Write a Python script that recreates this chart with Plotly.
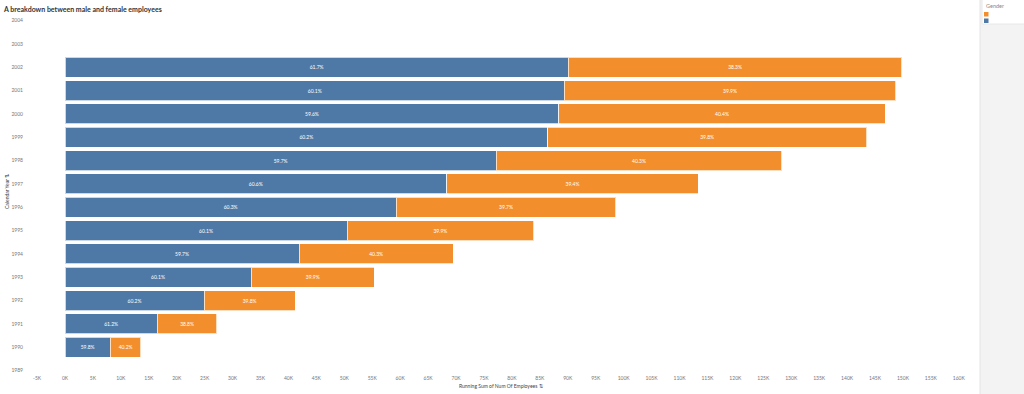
import plotly.graph_objects as go

# ---- data ----
years = [1990, 1991, 1992, 1993, 1994, 1995, 1996, 1997, 1998, 1999, 2000, 2001, 2002]
male_running = [8100, 16500, 24900, 33300, 41900, 50500, 59300, 68300, 77200, 86400, 88400, 89400, 90100]
female_running = [5500, 10700, 16300, 22100, 27600, 33400, 39300, 45100, 51100, 57100, 58400, 59300, 59700]
male_pct = ["59.8%", "61.2%", "60.2%", "60.1%", "59.7%", "60.1%", "60.3%", "60.6%", "59.7%", "60.2%", "59.6%", "60.1%", "61.7%"]
female_pct = ["40.2%", "38.8%", "39.8%", "39.9%", "40.3%", "39.9%", "39.7%", "39.4%", "40.3%", "39.8%", "40.4%", "39.9%", "38.3%"]
year_ticks = list(range(1989, 2005))
x_tickvals = list(range(-5000, 160001, 5000))
x_ticktext = [f"{v // 1000}K" for v in x_tickvals]

BLUE = "#4e79a7"
ORANGE = "#f28e2b"
FONT = "Lato, 'Open Sans', sans-serif"

# plot-area geometry in pixels
L, R, T, B = 30, 975, 9, 374
PW, PH = R - L, B - T


def px(x):
    return (x - L) / PW


def py(y):
    return (B - y) / PH


fig = go.Figure()
fig.add_trace(go.Bar(
    y=years, x=male_running, orientation="h", name="",
    marker=dict(color=BLUE, line=dict(color="rgba(255,255,255,0.7)", width=1)),
    width=0.86, text=male_pct, textposition="inside", insidetextanchor="middle",
    textfont=dict(color="white", size=5, family=FONT), showlegend=False,
    hoverinfo="skip",
))
fig.add_trace(go.Bar(
    y=years, x=female_running, orientation="h", name="",
    marker=dict(color=ORANGE, line=dict(color="rgba(255,255,255,0.7)", width=1)),
    width=0.86, text=female_pct, textposition="inside", insidetextanchor="middle",
    textfont=dict(color="white", size=5, family=FONT), showlegend=False,
    hoverinfo="skip",
))

fig.update_layout(
    barmode="stack",
    width=1024, height=394,
    margin=dict(l=L, r=1024 - R, t=T, b=394 - B),
    paper_bgcolor="white", plot_bgcolor="white",
    font=dict(family=FONT, color="#666666", size=5),
    title=dict(text="<b>A breakdown between male and female employees</b>",
               x=4 / 1024, y=1 - 9.5 / 394, xanchor="left", yanchor="middle",
               font=dict(size=7, color="#333333", family=FONT)),
    uniformtext=dict(mode=False),
)
fig.update_xaxes(
    range=[-6266, 162900], tickvals=x_tickvals, ticktext=x_ticktext,
    showgrid=False, zeroline=False, showline=False,
    ticks="", tickfont=dict(size=5, color="#777777"), fixedrange=True,
)
fig.update_yaxes(
    range=[1988.85, 2004.5], tickvals=year_ticks, ticktext=[str(y) for y in year_ticks],
    showgrid=False, zeroline=False, showline=False,
    ticks="outside", ticklen=5, tickcolor="rgba(0,0,0,0)",
    tickfont=dict(size=5, color="#777777"), fixedrange=True,
)

# axis titles
fig.add_annotation(xref="paper", yref="paper", x=px(7), y=py(192),
                   xanchor="center", yanchor="middle",
                   text="Calendar Year \u21c5", textangle=-90, showarrow=False,
                   font=dict(size=5, color="#444444", family=FONT))
fig.add_annotation(xref="paper", yref="paper", x=px(501), y=py(386),
                   xanchor="center", yanchor="middle",
                   text="Running Sum of Num Of Employees \u21c5", showarrow=False,
                   font=dict(size=5, color="#444444", family=FONT))

# right-side legend panel
fig.add_shape(type="rect", xref="paper", yref="paper",
              x0=px(980), x1=px(1030), y0=py(400), y1=py(-5),
              fillcolor="#f3f3f3", line=dict(color="#e4e4e4", width=1), layer="below")
fig.add_shape(type="rect", xref="paper", yref="paper",
              x0=px(982), x1=px(1030), y0=py(24), y1=py(-5),
              fillcolor="white", line=dict(color="#e8e8e8", width=1), layer="below")
fig.add_annotation(xref="paper", yref="paper", x=px(984), y=py(6),
                   xanchor="left", yanchor="middle", text="Gender", showarrow=False,
                   font=dict(size=5.5, color="#888888", family=FONT))
fig.add_shape(type="rect", xref="paper", yref="paper",
              x0=px(984), x1=px(988.5), y0=py(16.5), y1=py(12),
              fillcolor=ORANGE, line=dict(width=0))
fig.add_shape(type="rect", xref="paper", yref="paper",
              x0=px(984), x1=px(988.5), y0=py(23), y1=py(18.5),
              fillcolor=BLUE, line=dict(width=0))

fig.write_html("out.html", config={"displayModeBar": False},
               post_script="document.body.style.margin='0';document.body.style.overflow='hidden';")
